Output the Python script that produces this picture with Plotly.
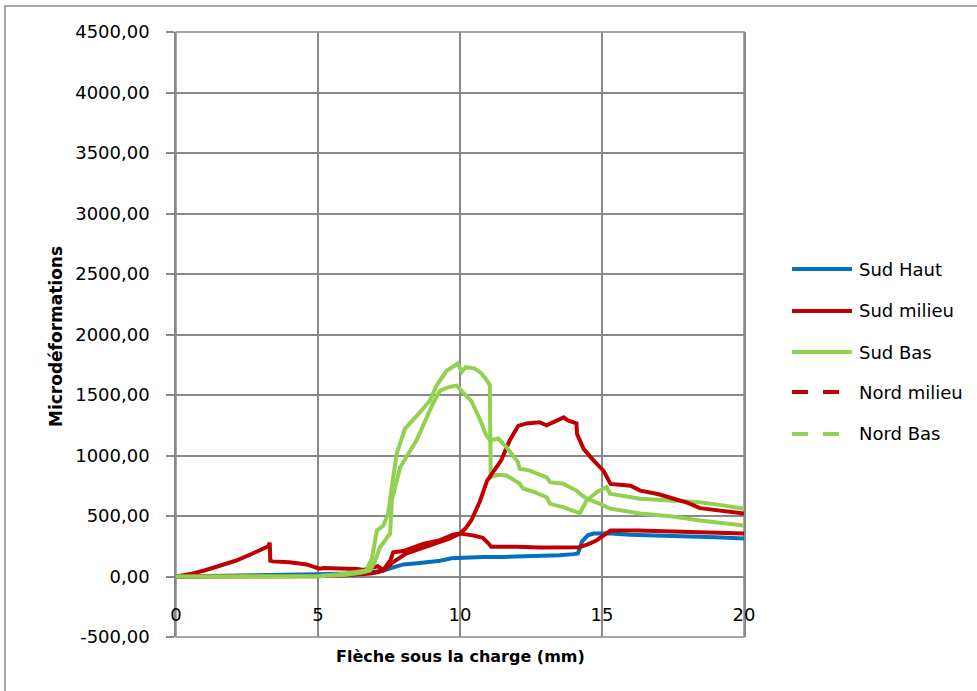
import plotly.graph_objects as go

# ---------------- data ----------------
series_names = ["Sud Haut", "Sud milieu", "Sud Bas", "Nord milieu", "Nord Bas"]
series_colors = ["#0070C0", "#C00000", "#92D050", "#C00000", "#92D050"]
series_dashed = [False, False, False, True, True]

sud_haut_x = [0, 1, 2, 3, 4, 5, 6, 6.5, 7, 7.3, 7.6, 8.0, 8.5, 9.0, 9.3, 9.7, 10.0, 10.35, 10.8,
              11.5, 12.5, 13.5, 14.0, 14.15, 14.3, 14.5, 14.7, 15.0, 15.3, 16, 17, 18, 19, 20]
sud_haut_y = [0, 2, 5, 8, 12, 18, 25, 30, 40, 50, 75, 100, 110, 118, 130, 150, 155, 160, 162,
              162, 165, 175, 185, 190, 290, 340, 355, 355, 355, 345, 340, 330, 325, 315]

sud_milieu_x = [0, 0.5, 1.0, 1.5, 2.1, 2.7, 3.1, 3.25, 3.3, 3.32, 3.4, 4.0, 4.6, 5.05, 5.2, 5.7,
                6.4, 6.6, 7.0, 7.1, 7.3, 7.55, 7.65, 8.0, 8.7, 9.3, 9.75, 10.0, 10.45, 10.8, 11.0,
                11.1, 12.0, 12.8, 14.2, 14.5, 14.8, 15.3, 16.3, 17, 18, 19, 20]
sud_milieu_y = [0, 20, 50, 85, 130, 190, 240, 250, 280, 130, 125, 118, 100, 65, 70, 68,
                63, 55, 75, 85, 55, 135, 200, 210, 270, 300, 345, 355, 340, 320, 275,
                245, 245, 240, 242, 265, 298, 380, 380, 375, 370, 365, 355]

sud_bas_x = [0, 2, 4, 5, 6, 6.4, 6.7, 6.9, 7.07, 7.3, 7.47, 7.6, 7.77, 8.06, 8.24, 8.6, 8.94,
             9.18, 9.53, 9.93, 10.06, 10.2, 10.5, 10.75, 10.95, 11.05, 11.08, 11.3, 11.64, 12.1,
             12.22, 12.6, 13.05, 13.17, 13.63, 14.22, 14.46, 14.81, 15.16, 15.28, 16.34, 17.5,
             18.45, 19.2, 20]
sud_bas_y = [0, 0, 0, 5, 25, 40, 50, 150, 380, 420, 520, 740, 1015, 1220, 1265, 1360, 1455,
             1580, 1700, 1760, 1690, 1730, 1720, 1680, 1620, 1580, 820, 840, 835, 768,
             727, 700, 655, 600, 573, 523, 628, 697, 738, 684, 643, 625,
             614, 590, 560]

nord_milieu_x = [0, 2, 4, 5, 6, 6.5, 6.85, 7.1, 7.3, 7.5, 7.65, 8.1, 8.6, 9.2, 9.6, 10.0, 10.2,
                 10.4, 10.7, 10.95, 11.2, 11.45, 11.75, 12.05, 12.35, 12.8, 13.05, 13.3, 13.65,
                 13.8, 14.1, 14.12, 14.35, 14.7, 15.05, 15.3, 16.0, 16.35, 17.0, 17.5, 18.0,
                 18.45, 19.2, 20]
nord_milieu_y = [0, 0, 0, 2, 10, 15, 25, 35, 50, 90, 120, 190, 230, 275, 310, 355, 400,
                 465, 620, 790, 875, 960, 1125, 1245, 1265, 1275, 1250, 1275, 1315,
                 1290, 1265, 1180, 1055, 960, 875, 765, 750, 710, 680, 645, 610,
                 565, 545, 520]

nord_bas_x = [0, 2, 4, 5, 6, 6.5, 6.83, 7.0, 7.18, 7.54, 7.6, 7.89, 8.18, 8.47, 8.83, 9.05, 9.3,
              9.6, 9.88, 10.1, 10.4, 10.7, 10.9, 11.06, 11.35, 11.64, 12.04, 12.1, 12.46, 13.05,
              13.17, 13.63, 14.1, 14.22, 14.46, 14.93, 15.28, 16.34, 17.5, 18.45, 19.2, 20]
nord_bas_y = [0, 0, 0, 3, 15, 30, 50, 120, 240, 355, 630, 900, 1015, 1125, 1315, 1430, 1537,
              1565, 1578, 1525, 1450, 1300, 1180, 1124, 1140, 1068, 945, 890, 875, 820,
              780, 767, 710, 684, 643, 600, 562, 520, 495, 463, 440, 421]

series_x = [sud_haut_x, sud_milieu_x, sud_bas_x, nord_milieu_x, nord_bas_x]
series_y = [sud_haut_y, sud_milieu_y, sud_bas_y, nord_milieu_y, nord_bas_y]

y_tickvals = [-500, 0, 500, 1000, 1500, 2000, 2500, 3000, 3500, 4000, 4500]
y_ticktext = ["-500,00", "0,00", "500,00", "1000,00", "1500,00", "2000,00", "2500,00",
              "3000,00", "3500,00", "4000,00", "4500,00"]
x_tickvals = [0, 5, 10, 15, 20]
x_ticktext = ["0", "5", "10", "15", "20"]

x_title = "Flèche sous la charge (mm)"
y_title = "Microdéformations"

# ---------------- layout helpers ----------------
W, H = 977, 691
L, R, T, B = 176, 744, 32, 637          # plot area in pixels
def px(xp):
    return (xp - L) / (R - L)
def py(yp):
    return (B - yp) / (B - T)

FONT = "DejaVu Sans"
GRID = "#898989"

fig = go.Figure()
for name, xs, ys, col in zip(series_names, series_x, series_y, series_colors):
    fig.add_trace(go.Scatter(x=xs, y=ys, mode="lines", name=name,
                             line=dict(color=col, width=4), showlegend=False))

shapes = []
annotations = []
# plot frame
shapes.append(dict(type="rect", xref="paper", yref="paper", x0=0, y0=0, x1=1, y1=1,
                   line=dict(color=GRID, width=1.5), layer="below"))
# outer chart border
shapes.append(dict(type="rect", xref="paper", yref="paper", x0=px(5), x1=px(990),
                   y0=py(700), y1=py(6), line=dict(color="#8a8a8a", width=1.5), layer="below"))

# custom legend
legend_y = [269, 311, 352, 392, 434]
for name, col, dashed, ly in zip(series_names, series_colors, series_dashed, legend_y):
    if dashed:
        shapes.append(dict(type="line", xref="paper", yref="paper", x0=px(792), x1=px(840),
                           y0=py(ly), y1=py(ly), line=dict(color=col, width=4, dash="16px,15px")))
    else:
        shapes.append(dict(type="line", xref="paper", yref="paper", x0=px(792), x1=px(852),
                           y0=py(ly), y1=py(ly), line=dict(color=col, width=4)))
    annotations.append(dict(text=name, xref="paper", yref="paper", x=px(857), y=py(ly),
                            xanchor="left", yanchor="middle", showarrow=False,
                            font=dict(family=FONT, size=18, color="#000000")))

# axis titles
annotations.append(dict(text="<b>%s</b>" % x_title, xref="paper", yref="paper",
                        x=px(460), y=py(656), xanchor="center", yanchor="middle",
                        showarrow=False, font=dict(family=FONT, size=16, color="#000000")))
annotations.append(dict(text="<b>%s</b>" % y_title, xref="paper", yref="paper",
                        x=px(56), y=py(337), xanchor="center", yanchor="middle", textangle=-90,
                        showarrow=False, font=dict(family=FONT, size=17, color="#000000")))

fig.update_layout(
    width=W, height=H,
    margin=dict(l=L, r=W - R, t=T, b=H - B, pad=0),
    paper_bgcolor="white", plot_bgcolor="white",
    showlegend=False,
    font=dict(family=FONT, size=18, color="#000000"),
    xaxis=dict(range=[0, 20], tickmode="array", tickvals=x_tickvals, ticktext=x_ticktext,
               anchor="free", position=0.058, showline=False, ticks="",
               showgrid=True, gridcolor=GRID, gridwidth=1.5, zeroline=False,
               tickfont=dict(family=FONT, size=18, color="#000000")),
    yaxis=dict(range=[-500, 4500], tickmode="array", tickvals=y_tickvals, ticktext=y_ticktext,
               ticks="outside", ticklen=8, tickwidth=1.5, tickcolor=GRID,
               showline=True, linecolor=GRID, linewidth=1.5, mirror=True,
               showgrid=True, gridcolor=GRID, gridwidth=1.5,
               zeroline=True, zerolinecolor=GRID, zerolinewidth=1.5,
               ticklabelstandoff=13,
               tickfont=dict(family=FONT, size=18, color="#000000")),
    shapes=shapes, annotations=annotations,
)

fig.write_html("out.html")
